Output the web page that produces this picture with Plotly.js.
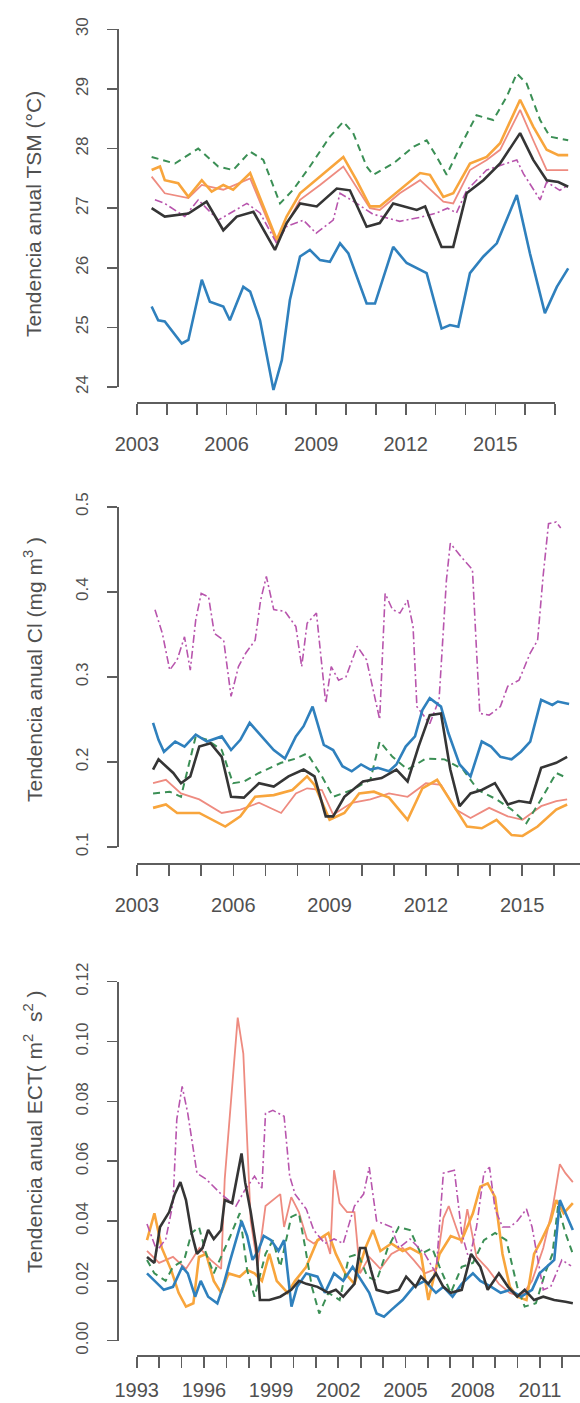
<!DOCTYPE html>
<html><head><meta charset="utf-8">
<script src="https://cdn.plot.ly/plotly-3.0.1.min.js"></script>
<style>html,body{margin:0;padding:0;background:#fff}#chart{width:580px;height:1403px}</style>
</head><body><div id="chart"></div>
<script>
// ---------- Panel 1: TSM (°C) ----------
const tsm_azul_x = [2003.49,2003.71,2003.93,2004.50,2004.72,2005.17,2005.44,2005.89,2006.11,2006.56,2006.79,2007.12,2007.57,2007.85,2008.12,2008.46,2008.79,2009.13,2009.46,2009.80,2010.08,2010.69,2010.97,2011.58,2012.03,2012.70,2013.20,2013.48,2013.76,2014.15,2014.60,2015.05,2015.72,2016.16,2016.66,2017.06,2017.44];
const tsm_azul_y = [25.35,25.12,25.10,24.73,24.79,25.80,25.43,25.35,25.12,25.68,25.60,25.12,23.95,24.45,25.46,26.19,26.30,26.13,26.10,26.41,26.24,25.40,25.40,26.35,26.08,25.91,24.98,25.04,25.01,25.91,26.19,26.41,27.22,26.24,25.24,25.68,25.99];
const tsm_negro_x = [2003.49,2003.93,2004.72,2005.33,2005.89,2006.34,2006.90,2007.62,2008.01,2008.46,2009.02,2009.69,2010.13,2010.69,2011.13,2011.58,2012.37,2012.65,2012.92,2013.20,2013.59,2014.04,2014.60,2015.16,2015.83,2016.27,2016.72,2017.11,2017.44];
const tsm_negro_y = [27.00,26.86,26.91,27.11,26.63,26.86,26.94,26.30,26.75,27.08,27.03,27.33,27.30,26.69,26.75,27.08,26.97,27.03,26.69,26.35,26.35,27.25,27.47,27.75,28.26,27.81,27.47,27.44,27.36];
const tsm_naranja_x = [2003.49,2003.77,2003.93,2004.38,2004.72,2005.17,2005.50,2005.89,2006.22,2006.79,2007.68,2008.01,2008.46,2009.13,2009.91,2010.35,2010.80,2011.13,2011.80,2012.48,2012.81,2013.26,2013.59,2014.15,2014.71,2015.16,2015.83,2016.27,2016.72,2017.11,2017.44];
const tsm_naranja_y = [27.64,27.70,27.47,27.42,27.19,27.47,27.28,27.39,27.31,27.59,26.47,26.86,27.25,27.53,27.86,27.47,27.03,27.03,27.31,27.59,27.56,27.19,27.25,27.75,27.86,28.09,28.82,28.37,27.98,27.89,27.89];
const tsm_salmon_x = [2003.49,2003.93,2004.72,2005.17,2005.89,2006.79,2007.68,2008.46,2009.13,2009.91,2010.80,2011.13,2011.80,2012.48,2013.26,2013.59,2014.15,2014.71,2015.16,2015.83,2016.27,2016.72,2017.44];
const tsm_salmon_y = [27.53,27.25,27.17,27.39,27.31,27.50,26.43,27.14,27.39,27.70,27.00,26.97,27.25,27.47,27.11,27.08,27.64,27.81,27.98,28.65,28.14,27.64,27.64];
const tsm_verde_x = [2003.49,2004.27,2005.05,2005.72,2006.22,2006.79,2007.23,2007.79,2008.23,2008.79,2009.46,2009.91,2010.24,2010.69,2010.91,2011.58,2012.26,2012.70,2013.04,2013.37,2013.82,2014.37,2014.93,2015.38,2015.72,2016.05,2016.50,2016.83,2017.44];
const tsm_verde_y = [27.86,27.75,28.00,27.70,27.64,27.95,27.81,27.08,27.31,27.70,28.20,28.45,28.26,27.70,27.56,27.75,28.03,28.14,27.86,27.56,28.03,28.56,28.48,28.87,29.26,29.09,28.48,28.20,28.14];
const tsm_magenta_x = [2003.60,2003.93,2004.60,2005.05,2005.72,2006.68,2007.12,2007.68,2008.00,2008.57,2009.00,2009.57,2009.80,2010.30,2010.90,2011.80,2012.50,2013.04,2013.40,2013.70,2014.04,2014.71,2015.72,2015.94,2016.50,2016.72,2017.16,2017.44];
const tsm_magenta_y = [27.14,27.08,26.86,27.14,26.80,27.08,26.92,26.41,26.69,26.80,26.58,26.80,27.25,27.10,26.90,26.78,26.85,26.92,27.00,26.92,27.30,27.64,27.81,27.58,27.14,27.44,27.30,27.39];
const tsm_anos = [2003,2004,2005,2006,2007,2008,2009,2010,2011,2012,2013,2014,2015,2016,2017];
const tsm_etiq_vals = [2003,2006,2009,2012,2015];
const tsm_etiquetas = ['2003','2006','2009','2012','2015'];
const tsm_yvals = [24,25,26,27,28,29,30];
const tsm_ytext = ['24','25','26','27','28','29','30'];

// ---------- Panel 2: Cl (mg m^3) ----------
const cl_azul_x = [2003.50,2003.67,2003.84,2004.19,2004.48,2004.83,2005.18,2005.64,2005.93,2006.22,2006.51,2006.80,2007.26,2007.61,2007.95,2008.19,2008.47,2008.82,2009.11,2009.40,2009.69,2009.98,2010.27,2010.50,2010.85,2011.08,2011.37,2011.66,2011.89,2012.12,2012.47,2012.70,2013.05,2013.39,2013.74,2014.03,2014.32,2014.67,2014.96,2015.25,2015.59,2015.94,2016.11,2016.46];
const cl_azul_y = [0.246,0.226,0.212,0.224,0.218,0.232,0.224,0.230,0.214,0.226,0.246,0.234,0.214,0.204,0.230,0.242,0.265,0.220,0.214,0.195,0.189,0.197,0.191,0.193,0.189,0.197,0.218,0.230,0.261,0.275,0.265,0.234,0.197,0.183,0.224,0.218,0.206,0.203,0.212,0.224,0.273,0.267,0.271,0.268];
const cl_negro_x = [2003.50,2003.67,2004.13,2004.37,2004.66,2004.94,2005.29,2005.64,2005.93,2006.33,2006.80,2007.26,2007.72,2008.19,2008.53,2008.88,2009.11,2009.46,2010.04,2010.62,2011.08,2011.43,2011.77,2012.12,2012.47,2012.76,2013.05,2013.39,2013.74,2014.15,2014.55,2014.90,2015.25,2015.59,2016.06,2016.40];
const cl_negro_y = [0.191,0.203,0.187,0.175,0.183,0.218,0.222,0.206,0.159,0.158,0.175,0.171,0.183,0.191,0.183,0.136,0.136,0.159,0.177,0.181,0.191,0.177,0.218,0.255,0.257,0.191,0.148,0.163,0.167,0.175,0.150,0.154,0.152,0.193,0.199,0.206];
const cl_naranja_x = [2003.50,2003.90,2004.25,2004.94,2005.75,2006.22,2006.68,2007.26,2007.84,2008.30,2008.53,2009.00,2009.46,2009.92,2010.38,2010.85,2011.43,2011.89,2012.35,2012.81,2013.28,2013.74,2014.20,2014.67,2015.01,2015.48,2016.06,2016.40];
const cl_naranja_y = [0.146,0.150,0.140,0.140,0.124,0.136,0.159,0.161,0.167,0.183,0.173,0.132,0.140,0.163,0.165,0.158,0.132,0.169,0.179,0.152,0.124,0.122,0.132,0.114,0.113,0.124,0.144,0.150];
const cl_salmon_x = [2003.50,2003.90,2004.37,2004.94,2005.64,2006.22,2006.80,2007.49,2007.95,2008.30,2008.76,2009.11,2009.69,2010.27,2010.85,2011.43,2012.00,2012.47,2012.93,2013.39,2013.97,2014.55,2015.01,2015.59,2016.06,2016.40];
const cl_salmon_y = [0.175,0.179,0.163,0.156,0.140,0.144,0.152,0.140,0.163,0.169,0.167,0.138,0.152,0.156,0.163,0.159,0.175,0.173,0.144,0.134,0.146,0.136,0.132,0.148,0.154,0.156];
const cl_verde_x = [2003.50,2004.02,2004.37,2004.83,2005.18,2005.64,2005.99,2006.33,2006.80,2007.49,2007.95,2008.30,2008.76,2009.11,2009.69,2010.27,2010.56,2010.96,2011.43,2012.00,2012.58,2013.16,2013.62,2014.20,2014.67,2015.13,2015.59,2016.06,2016.40];
const cl_verde_y = [0.163,0.165,0.159,0.230,0.226,0.214,0.175,0.177,0.187,0.199,0.204,0.210,0.183,0.159,0.167,0.179,0.224,0.206,0.191,0.204,0.203,0.191,0.167,0.156,0.144,0.128,0.156,0.187,0.181];
const cl_magenta_x = [2003.56,2003.79,2004.02,2004.25,2004.48,2004.66,2004.83,2005.00,2005.23,2005.41,2005.70,2005.93,2006.16,2006.39,2006.68,2006.85,2007.03,2007.26,2007.61,2007.95,2008.13,2008.30,2008.59,2008.76,2008.88,2009.05,2009.28,2009.51,2009.86,2010.15,2010.38,2010.56,2010.73,2010.96,2011.19,2011.43,2011.60,2011.72,2012.12,2012.41,2012.64,2012.76,2013.10,2013.45,2013.57,2013.68,2013.97,2014.32,2014.55,2014.90,2015.25,2015.48,2015.65,2015.82,2016.06,2016.20];
const cl_magenta_y = [0.379,0.351,0.308,0.320,0.347,0.308,0.367,0.398,0.394,0.351,0.343,0.277,0.312,0.328,0.343,0.390,0.418,0.379,0.377,0.359,0.312,0.363,0.375,0.312,0.269,0.312,0.296,0.300,0.336,0.320,0.281,0.250,0.398,0.379,0.375,0.390,0.359,0.265,0.245,0.273,0.414,0.457,0.441,0.426,0.336,0.257,0.255,0.265,0.289,0.296,0.328,0.343,0.418,0.480,0.482,0.475];
const cl_anos = [2003,2004,2005,2006,2007,2008,2009,2010,2011,2012,2013,2014,2015,2016];
const cl_etiq_vals = [2003,2006,2009,2012,2015];
const cl_etiquetas = ['2003','2006','2009','2012','2015'];
const cl_yvals = [0.1,0.2,0.3,0.4,0.5];
const cl_ytext = ['0.1','0.2','0.3','0.4','0.5'];

// ---------- Panel 3: ECT (m^2 s^2) ----------
const ect_salmon_x = [1993.46,1994.00,1994.62,1995.20,1995.80,1996.30,1996.77,1996.93,1997.51,1997.76,1998.09,1998.40,1998.75,1999.08,1999.41,1999.58,1999.90,2000.24,2000.60,2000.90,2001.40,2001.64,2001.81,2002.06,2002.39,2002.72,2002.97,2003.38,2003.88,2004.37,2004.87,2005.36,2005.86,2006.36,2006.69,2006.93,2007.26,2007.51,2007.76,2008.17,2008.67,2009.17,2009.66,2010.16,2010.65,2011.15,2011.56,2011.89,2012.14,2012.47];
const ect_salmon_y = [0.030,0.026,0.028,0.024,0.031,0.027,0.024,0.054,0.108,0.096,0.040,0.025,0.045,0.047,0.049,0.038,0.048,0.043,0.034,0.0325,0.035,0.029,0.057,0.046,0.043,0.043,0.0225,0.028,0.024,0.029,0.031,0.027,0.0225,0.024,0.041,0.045,0.038,0.0325,0.044,0.028,0.024,0.019,0.016,0.0147,0.020,0.031,0.044,0.059,0.056,0.053];
const ect_magenta_x = [1993.46,1993.90,1994.30,1994.62,1994.79,1995.03,1995.28,1995.45,1995.69,1996.10,1996.77,1997.43,1997.80,1998.26,1998.59,1998.75,1999.08,1999.58,1999.83,2000.07,2000.57,2000.90,2001.40,2001.81,2002.22,2002.72,2003.13,2003.38,2003.71,2004.04,2004.37,2004.70,2005.20,2005.86,2006.36,2006.69,2007.18,2007.51,2007.84,2008.17,2008.50,2008.75,2009.00,2009.33,2009.66,2009.99,2010.40,2010.65,2011.15,2011.48,2011.98,2012.39];
const ect_magenta_y = [0.039,0.030,0.034,0.046,0.074,0.085,0.076,0.068,0.056,0.054,0.049,0.045,0.050,0.055,0.051,0.076,0.077,0.075,0.055,0.049,0.044,0.037,0.0325,0.034,0.0325,0.045,0.049,0.058,0.040,0.039,0.038,0.031,0.034,0.029,0.0225,0.056,0.057,0.036,0.027,0.038,0.056,0.058,0.044,0.038,0.038,0.040,0.044,0.038,0.017,0.018,0.027,0.025];
const ect_negro_x = [1993.46,1993.79,1994.04,1994.45,1994.70,1994.95,1995.20,1995.45,1995.69,1995.94,1996.19,1996.44,1996.77,1996.93,1997.26,1997.51,1997.68,1997.84,1998.09,1998.34,1998.50,1998.92,1999.41,1999.90,2000.24,2000.57,2001.07,2001.56,2001.89,2002.22,2002.72,2002.97,2003.21,2003.46,2003.71,2004.21,2004.70,2005.03,2005.45,2005.69,2006.02,2006.36,2006.69,2007.02,2007.51,2007.93,2008.34,2008.67,2009.17,2009.58,2009.99,2010.32,2010.74,2011.15,2011.64,2012.14,2012.47];
const ect_negro_y = [0.028,0.026,0.038,0.043,0.049,0.053,0.047,0.036,0.029,0.031,0.037,0.034,0.037,0.047,0.046,0.056,0.0626,0.053,0.043,0.031,0.0136,0.0136,0.0147,0.017,0.020,0.019,0.018,0.016,0.017,0.0147,0.019,0.031,0.031,0.0236,0.017,0.016,0.017,0.0214,0.018,0.0214,0.019,0.0225,0.018,0.016,0.017,0.029,0.0247,0.017,0.0225,0.018,0.0147,0.017,0.0136,0.0147,0.0136,0.013,0.0125];
const ect_azul_x = [1993.46,1993.79,1994.21,1994.62,1995.03,1995.28,1995.61,1995.86,1996.19,1996.60,1996.85,1997.18,1997.43,1997.68,1997.93,1998.17,1998.42,1998.67,1999.00,1999.33,1999.58,1999.91,2000.16,2000.57,2001.07,2001.40,2001.81,2002.22,2002.64,2003.05,2003.38,2003.71,2004.04,2004.37,2004.87,2005.36,2005.86,2006.36,2006.69,2007.10,2007.51,2008.01,2008.34,2008.83,2009.25,2009.66,2010.16,2010.65,2010.98,2011.31,2011.64,2011.89,2012.22,2012.47];
const ect_azul_y = [0.0225,0.020,0.017,0.018,0.0247,0.0225,0.0147,0.020,0.0147,0.0125,0.018,0.027,0.0336,0.040,0.035,0.027,0.030,0.035,0.0336,0.030,0.0336,0.0114,0.018,0.0225,0.0214,0.016,0.0225,0.020,0.0247,0.020,0.016,0.0091,0.008,0.0103,0.0136,0.018,0.020,0.016,0.018,0.0147,0.019,0.0225,0.020,0.018,0.016,0.017,0.0147,0.017,0.0225,0.0247,0.027,0.047,0.0414,0.037];
const ect_naranja_x = [1993.46,1993.79,1994.12,1994.54,1994.87,1995.20,1995.53,1995.78,1996.10,1996.44,1996.77,1997.10,1997.60,1997.93,1998.26,1998.59,1998.92,1999.25,1999.74,2000.07,2000.57,2001.07,2001.56,2001.89,2002.31,2002.72,2003.21,2003.55,2003.88,2004.37,2004.87,2005.20,2005.69,2006.02,2006.52,2007.02,2007.51,2008.01,2008.34,2008.67,2009.00,2009.33,2009.66,2009.99,2010.40,2010.74,2011.07,2011.48,2011.73,2012.06,2012.47];
const ect_naranja_y = [0.0336,0.0426,0.031,0.0236,0.016,0.0114,0.0125,0.028,0.029,0.020,0.016,0.0225,0.0214,0.0236,0.0225,0.020,0.029,0.020,0.016,0.020,0.0247,0.0336,0.036,0.029,0.0225,0.019,0.031,0.037,0.030,0.0325,0.030,0.031,0.029,0.0136,0.029,0.035,0.0336,0.0426,0.0515,0.0526,0.048,0.029,0.018,0.0147,0.0136,0.029,0.0336,0.040,0.047,0.0426,0.046];
const ect_verde_x = [1993.46,1993.79,1994.29,1994.62,1995.12,1995.45,1995.78,1996.10,1996.44,1996.77,1997.18,1997.60,1997.93,1998.26,1998.75,1999.08,1999.41,1999.90,2000.24,2000.49,2000.82,2001.15,2001.56,2002.06,2002.47,2002.88,2003.30,2003.71,2004.21,2004.70,2005.20,2005.69,2006.19,2006.52,2007.02,2007.51,2008.01,2008.50,2009.00,2009.50,2009.99,2010.32,2010.82,2011.23,2011.56,2011.81,2012.14,2012.47];
const ect_verde_y = [0.027,0.0225,0.020,0.0247,0.027,0.036,0.038,0.029,0.0225,0.028,0.035,0.0426,0.0236,0.0147,0.029,0.0336,0.0247,0.0414,0.0426,0.0325,0.018,0.0091,0.016,0.0136,0.028,0.029,0.0214,0.020,0.031,0.038,0.037,0.029,0.031,0.0247,0.016,0.0247,0.026,0.0336,0.036,0.0336,0.018,0.0114,0.0125,0.0225,0.029,0.045,0.036,0.029];
const ect_anos = [1993,1994,1995,1996,1997,1998,1999,2000,2001,2002,2003,2004,2005,2006,2007,2008,2009,2010,2011,2012];
const ect_etiq_vals = [1993,1996,1999,2002,2005,2008,2011];
const ect_etiquetas = ['1993','1996','1999','2002','2005','2008','2011'];
const ect_yvals = [0,0.02,0.04,0.06,0.08,0.10,0.12];
const ect_ytext = ['0.00','0.02','0.04','0.06','0.08','0.10','0.12'];

const titulos = ['Tendencia anual TSM (°C)', 'Tendencia anual Cl (mg m<sup>3</sup> )', 'Tendencia anual ECT( m<sup>2</sup>  s<sup>2</sup> )'];

// ---------- styling / layout geometry ----------
const W = 580, H = 1403;
const FONT = '"Liberation Sans", Arial, Helvetica, sans-serif';
const AXC = '#5e5e5e', TXC = '#505050';
const EST = {
  salmon:  {color:'#ee8b80', width:1.8, dash:'solid'},
  naranja: {color:'#f8a53c', width:2.6, dash:'solid'},
  verde:   {color:'#3b8f55', width:2.0, dash:'7px,5px'},
  magenta: {color:'#b855ad', width:1.6, dash:'8px,3px,2px,3px'},
  azul:    {color:'#2f80bd', width:2.6, dash:'solid'},
  negro:   {color:'#353535', width:2.6, dash:'solid'}
};

const PANELES = [
  {series:{salmon:[tsm_salmon_x,tsm_salmon_y], naranja:[tsm_naranja_x,tsm_naranja_y], verde:[tsm_verde_x,tsm_verde_y], magenta:[tsm_magenta_x,tsm_magenta_y], azul:[tsm_azul_x,tsm_azul_y], negro:[tsm_negro_x,tsm_negro_y]},
   xr:{px:137, v:2003, s:29.86}, yr:{px:387, v:24, s:59.6}, box:{l:122, r:580, t:12, b:400},
   xall:tsm_anos, xt:[tsm_etiq_vals, tsm_etiquetas], yt:[tsm_yvals, tsm_ytext], xEnd:2017, yLo:24, yHi:30, axisY:402, xStand:12, yStand:12, titleY:214},
  {series:{salmon:[cl_salmon_x,cl_salmon_y], naranja:[cl_naranja_x,cl_naranja_y], verde:[cl_verde_x,cl_verde_y], magenta:[cl_magenta_x,cl_magenta_y], azul:[cl_azul_x,cl_azul_y], negro:[cl_negro_x,cl_negro_y]},
   xr:{px:137, v:2003, s:32.1}, yr:{px:847, v:0.1, s:850.75}, box:{l:122, r:580, t:495, b:856},
   xall:cl_anos, xt:[cl_etiq_vals, cl_etiquetas], yt:[cl_yvals, cl_ytext], xEnd:null, yLo:0.1, yHi:0.5, axisY:863, xStand:12, yStand:12, titleY:670},
  {series:{salmon:[ect_salmon_x,ect_salmon_y], naranja:[ect_naranja_x,ect_naranja_y], verde:[ect_verde_x,ect_verde_y], magenta:[ect_magenta_x,ect_magenta_y], azul:[ect_azul_x,ect_azul_y], negro:[ect_negro_x,ect_negro_y]},
   xr:{px:136.7, v:1993, s:22.4}, yr:{px:1340.7, v:0, s:2991.7}, box:{l:122, r:580, t:968, b:1350},
   xall:ect_anos, xt:[ect_etiq_vals, ect_etiquetas], yt:[ect_yvals, ect_ytext], xEnd:null, yLo:0, yHi:0.12, axisY:1355, xStand:5, yStand:12, titleY:1132}
];

const traces = [];
const layout = {
  width: W, height: H, margin:{l:0,r:0,t:0,b:0}, showlegend:false,
  paper_bgcolor:'#ffffff', plot_bgcolor:'rgba(0,0,0,0)',
  font:{family:FONT, color:TXC}, annotations:[]
};

PANELES.forEach((p, i) => {
  const dn = 2*i + 1, tn = 2*i + 2;
  const dx = dn === 1 ? 'x' : 'x'+dn, dy = dn === 1 ? 'y' : 'y'+dn;
  const tx = 'x'+tn, ty = 'y'+tn;
  const xv = px => p.xr.v + (px - p.xr.px)/p.xr.s;
  const yv = py => p.yr.v + (p.yr.px - py)/p.yr.s;
  const xpx = v => p.xr.px + (v - p.xr.v)*p.xr.s;
  const ypx = v => p.yr.px - (v - p.yr.v)*p.yr.s;

  layout['xaxis'+(dn===1?'':dn)] = {domain:[p.box.l/W, p.box.r/W], range:[xv(p.box.l), xv(p.box.r)], visible:false, anchor:dy};
  layout['yaxis'+(dn===1?'':dn)] = {domain:[1-p.box.b/H, 1-p.box.t/H], range:[yv(p.box.b), yv(p.box.t)], visible:false, anchor:dx};

  const xEnd = p.xEnd !== null ? p.xEnd : xv(W);
  layout['xaxis'+tn] = {
    domain:[xpx(p.xall[0])/W, Math.min(1, xpx(xEnd)/W)], range:[p.xall[0], xEnd],
    anchor:'free', position: 1 - p.axisY/H, side:'bottom',
    showline:true, linecolor:AXC, linewidth:1.6, ticks:'outside', ticklen:11, tickwidth:1.6, tickcolor:AXC,
    tickmode:'array', tickvals:p.xt[0], ticktext:p.xt[1], tickfont:{size:20, color:TXC, family:FONT},
    minor:{tickmode:'array', tickvals:p.xall, ticks:'outside', ticklen:11, tickwidth:1.6, tickcolor:AXC, showgrid:false},
    ticklabelstandoff:p.xStand, showgrid:false, zeroline:false
  };
  layout['yaxis'+tn] = {
    domain:[1 - ypx(p.yLo)/H, 1 - ypx(p.yHi)/H], range:[p.yLo, p.yHi],
    anchor:'free', position: 117/W, side:'left',
    showline:true, linecolor:AXC, linewidth:1.6, ticks:'outside', ticklen:10, tickwidth:1.6, tickcolor:AXC,
    tickmode:'array', tickvals:p.yt[0], ticktext:p.yt[1], tickangle:-90, tickfont:{size:17, color:TXC, family:FONT},
    ticklabelstandoff:p.yStand, showgrid:false, zeroline:false
  };
  traces.push({type:'scatter', mode:'lines', x:[], y:[], xaxis:tx, yaxis:ty, hoverinfo:'skip', showlegend:false});

  Object.keys(p.series).forEach(k => {
    const s = p.series[k], e = EST[k];
    traces.push({type:'scatter', mode:'lines', name:k, x:s[0], y:s[1], xaxis:dx, yaxis:dy,
      line:{color:e.color, width:e.width, dash:e.dash}, hoverinfo:'skip', showlegend:false});
  });

  layout.annotations.push({text:titulos[i], xref:'paper', yref:'paper', x:33/W, y:1 - p.titleY/H,
    xanchor:'center', yanchor:'middle', textangle:-90, showarrow:false, font:{size:21, color:TXC, family:FONT}});
});

Plotly.newPlot('chart', traces, layout, {staticPlot:true, displayModeBar:false});
</script></body></html>
